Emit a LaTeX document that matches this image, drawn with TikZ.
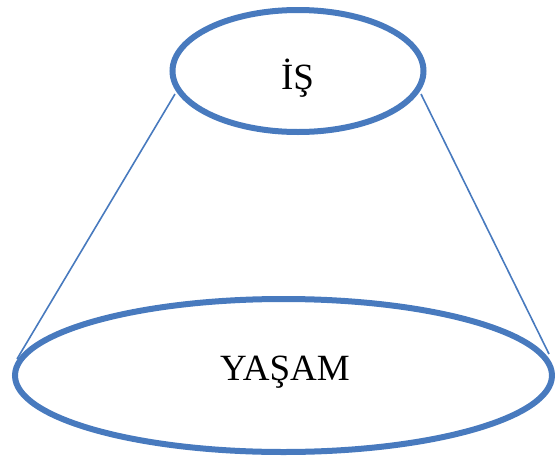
\documentclass[tikz,border=0pt]{standalone}
\usepackage{fontspec}
\setmainfont{Liberation Serif}
\usetikzlibrary{shapes.geometric}
\definecolor{ringblue}{RGB}{72,122,190}
\begin{document}
\begin{tikzpicture}[x=1pt,y=-1pt,
  ring/.style={ellipse,draw=ringblue,line width=6pt,inner sep=0pt,outer sep=0pt},
  side/.style={draw=ringblue,line width=1.6pt},
  lbl/.style={font=\fontsize{37}{40}\selectfont,anchor=base,inner sep=0pt}]
\useasboundingbox (0,0) rectangle (555,461);
\node[ring,minimum width=251pt,minimum height=122pt] (top) at (298,71) {};
\node[ring,minimum width=537pt,minimum height=153pt] (bot) at (283.5,375.5) {};
\coordinate (tl) at (175,94);
\coordinate (tr) at (421,94);
\coordinate (bl) at (17,359);
\coordinate (br) at (549,354);
\draw[side] (tl) -- (bl);
\draw[side] (tr) -- (br);
\node[lbl] (t1) at (297.5,89) {İŞ};
\node[lbl] (t2) at (285,380) {YAŞAM};
\end{tikzpicture}
\end{document}
